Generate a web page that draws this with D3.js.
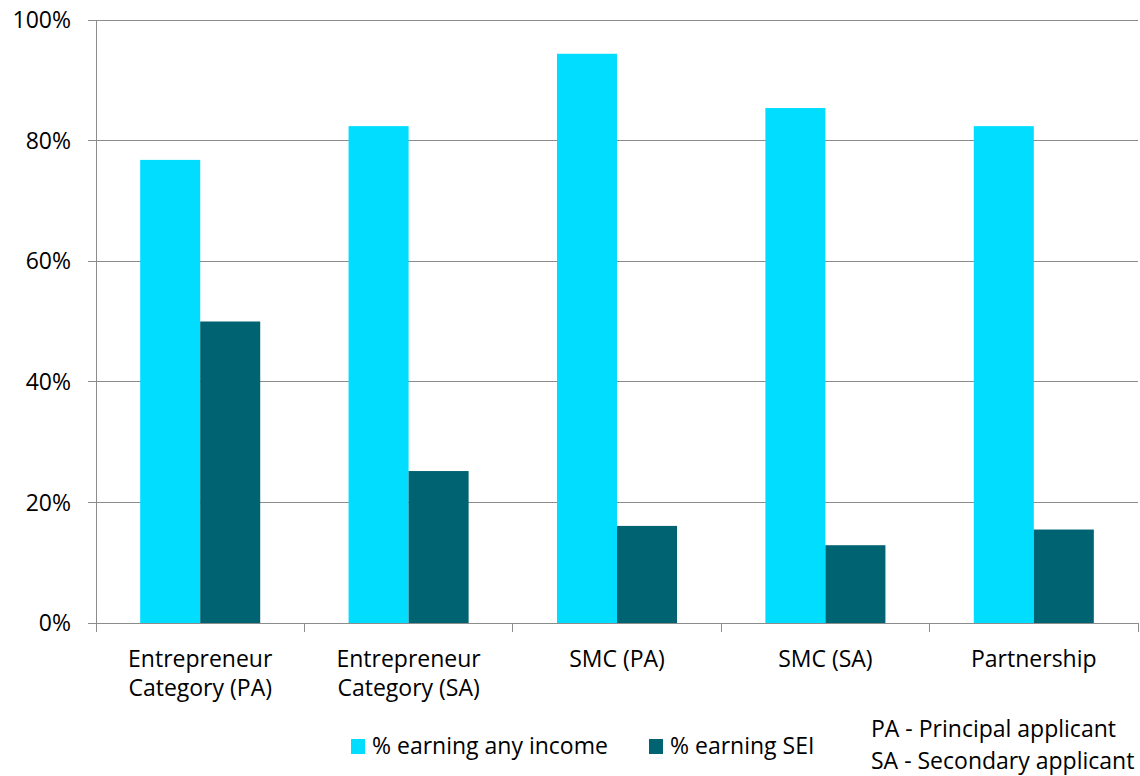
<!DOCTYPE html>
<html><head><meta charset="utf-8">
<script src="https://cdn.jsdelivr.net/npm/d3@7"></script>
<style>body{margin:0;background:#fff;} text{font-family:"Open Sans",sans-serif;fill:#000;}</style>
</head><body>
<svg id="c" width="1140" height="776"></svg>
<script>
const categories = [["Entrepreneur","Category (PA)"],["Entrepreneur","Category (SA)"],["SMC (PA)"],["SMC (SA)"],["Partnership"]];
const seriesNames = ["% earning any income","% earning SEI"];
const anyIncome = [76.8, 82.4, 94.4, 85.4, 82.4];
const sei = [50.0, 25.2, 16.1, 12.9, 15.5];
const yTicks = [0,20,40,60,80,100];
const colors = ["#00DDFF","#006371"];
const notes = ["PA - Principal applicant","SA - Secondary applicant"];

const FS = "23px";
const svg = d3.select("#c");
const L=96,R=1138,T=20,B=623;
const keys = categories.map((c,i)=>i);
const x0 = d3.scaleBand().domain(keys).range([L,R]).padding(0);
const bw = x0.bandwidth();
const x1 = d3.scaleBand().domain([0,1]).range([bw*0.212,bw*0.788]).padding(0);
const y = d3.scaleLinear().domain([0,100]).range([B,T]);

svg.append("g").selectAll("line").data(yTicks).join("line")
  .attr("x1",L-8).attr("x2",R).attr("y1",d=>y(d)).attr("y2",d=>y(d))
  .attr("stroke","#8c8c8c").attr("stroke-width",1).attr("shape-rendering","crispEdges");
svg.append("line").attr("x1",L).attr("x2",L).attr("y1",T).attr("y2",B+9).attr("stroke","#8c8c8c").attr("shape-rendering","crispEdges");
svg.append("g").selectAll("text").data(yTicks).join("text")
  .attr("x",L-25).attr("y",d=>y(d)).attr("dy","0.36em").attr("text-anchor","end")
  .style("font-size",FS).text(d=>d+"%");
const bounds = keys.map(k=>x0(k)).concat([R]);
svg.append("g").selectAll("line").data(bounds).join("line")
  .attr("x1",d=>d).attr("x2",d=>d).attr("y1",B).attr("y2",B+9)
  .attr("stroke","#8c8c8c").attr("shape-rendering","crispEdges");

const data = keys.map(i=>[anyIncome[i],sei[i]]);
const g = svg.append("g").selectAll("g").data(data).join("g").attr("transform",(d,i)=>`translate(${x0(i)},0)`);
g.selectAll("rect").data(d=>d.map((v,j)=>({v,j}))).join("rect")
  .attr("x",d=>x1(d.j)).attr("width",x1.bandwidth())
  .attr("y",d=>y(d.v)).attr("height",d=>B-y(d.v)).attr("fill",d=>colors[d.j]);
svg.append("line").attr("x1",L-8).attr("x2",R).attr("y1",B).attr("y2",B).attr("stroke","#8c8c8c").attr("shape-rendering","crispEdges");

const cl = svg.append("g").selectAll("text").data(categories).join("text")
  .attr("text-anchor","middle").style("font-size",FS)
  .attr("transform",(d,i)=>`translate(${x0(i)+bw/2},667)`);
cl.selectAll("tspan").data(d=>d).join("tspan").attr("x",0).attr("dy",(d,i)=>i?29:0).text(d=>d);

const lx=[351,649];
const lg = svg.append("g").selectAll("g").data(seriesNames).join("g").attr("transform",(d,i)=>`translate(${lx[i]},739)`);
lg.append("rect").attr("width",14).attr("height",15).attr("fill",(d,i)=>colors[i]);
lg.append("text").attr("x",21).attr("y",15).style("font-size",FS).text(d=>d);

svg.append("g").selectAll("text").data(notes).join("text")
  .attr("x",871).attr("y",(d,i)=>737+i*32).style("font-size",FS).text(d=>d);
</script>
</body></html>
